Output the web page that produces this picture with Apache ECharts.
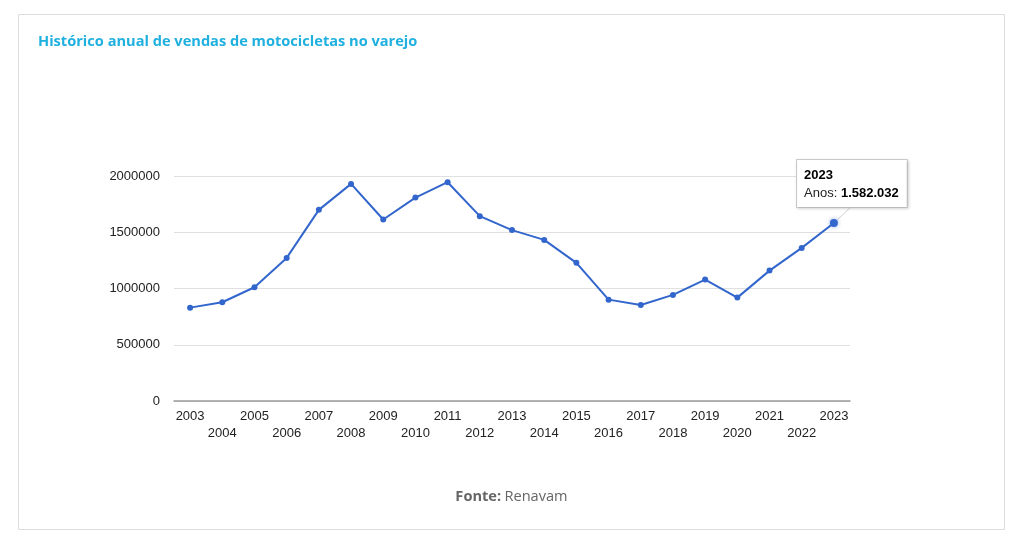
<!DOCTYPE html>
<html>
<head>
<meta charset="utf-8">
<script src="https://cdn.jsdelivr.net/npm/echarts@6/dist/echarts.min.js"></script>
<style>
html,body{margin:0;padding:0;background:#fff;}
#chart{width:1023px;height:546px;}
</style>
</head>
<body>
<div id="chart"></div>
<script>
const years = ['2003','2004','2005','2006','2007','2008','2009','2010','2011','2012','2013','2014','2015','2016','2017','2018','2019','2020','2021','2022','2023'];
const sales = [830000, 878000, 1011000, 1272000, 1699000, 1930000, 1613000, 1808000, 1945000, 1643000, 1519000, 1432000, 1228000, 901000, 854000, 943000, 1079000, 919000, 1159000, 1361000, 1582032];
const yTicks = [0, 500000, 1000000, 1500000, 2000000];
const titleText = 'Histórico anual de vendas de motocicletas no varejo';
const seriesName = 'Anos';

function fmtBR(v){ return String(v).replace(/\B(?=(\d{3})+(?!\d))/g, '.'); }

const lastIdx = sales.length - 1;
const seriesData = sales.map((v, i) => {
  if (i !== lastIdx) return v;
  return {
    value: v,
    symbolSize: 8,
    itemStyle: { shadowBlur: 4, shadowColor: 'rgba(51,102,204,0.5)' },
    label: {
      show: true,
      position: 'top',
      distance: 12,
      offset: [18, 0],
      align: 'center',
      formatter: '{a|' + years[i] + '}\n{b|' + seriesName + ': }{c|' + fmtBR(v) + '}',
      backgroundColor: '#fff',
      borderColor: '#cccccc',
      borderWidth: 1,
      shadowBlur: 3,
      shadowColor: 'rgba(0,0,0,0.15)',
      shadowOffsetX: 1, shadowOffsetY: 1,
      padding: [6, 8, 5, 7],
      rich: {
        a: { fontFamily: 'Arial, Liberation Sans', fontSize: 13, fontWeight: 'bold', color: '#000', lineHeight: 18, align: 'left' },
        b: { fontFamily: 'Arial, Liberation Sans', fontSize: 13, color: '#222', lineHeight: 18, align: 'left' },
        c: { fontFamily: 'Arial, Liberation Sans', fontSize: 13, fontWeight: 'bold', color: '#000', lineHeight: 18, align: 'left' }
      }
    },
    labelLine: { show: true, lineStyle: { color: '#d0d0d0', width: 1 } }
  };
});

const chart = echarts.init(document.getElementById('chart'), null, { renderer: 'canvas' });
chart.setOption({
  backgroundColor: '#fff',
  animation: false,
  graphic: [
    { type: 'rect', shape: { x: 18.5, y: 14.5, width: 986, height: 515 },
      style: { fill: 'none', stroke: '#dcdcdc', lineWidth: 1 }, z: -10 },
    { type: 'text', x: 38, y: 34,
      style: { text: titleText, fill: '#1fb0e0', font: 'bold 14.6px "Open Sans", sans-serif' } },
    { type: 'text', left: 'center', top: 489,
      style: { text: '{b|Fonte:} {n|Renavam}', rich: {
        b: { font: 'bold 14.6px "Open Sans", sans-serif', fill: '#666' },
        n: { font: '14.6px "Open Sans", sans-serif', fill: '#666' } } } }
  ],
  grid: { left: 174, right: 173, top: 176, bottom: 145 },
  xAxis: {
    type: 'category',
    data: years,
    boundaryGap: true,
    axisLine: { show: true, lineStyle: { color: '#999', width: 1.5 } },
    axisTick: { show: false },
    axisLabel: {
      interval: 0,
      margin: 7,
      fontFamily: 'Arial, Liberation Sans',
      fontSize: 13,
      color: '#222',
      lineHeight: 17,
      formatter: (v, i) => (i % 2 === 1 ? '\n' + v : v + '\n')
    }
  },
  yAxis: {
    type: 'value',
    min: yTicks[0],
    max: yTicks[yTicks.length - 1],
    interval: 500000,
    axisLine: { show: false },
    axisTick: { show: false },
    splitLine: { lineStyle: { color: '#e0e0e0', width: 1 } },
    axisLabel: {
      margin: 14,
      fontFamily: 'Arial, Liberation Sans',
      fontSize: 13,
      color: '#222',
      formatter: v => String(v)
    }
  },
  series: [{
    name: seriesName,
    type: 'line',
    data: seriesData,
    symbol: 'circle',
    symbolSize: 6,
    lineStyle: { color: '#3366cc', width: 2 },
    itemStyle: { color: '#3366cc' },
    emphasis: { disabled: true }
  }]
});
</script>
</body>
</html>
